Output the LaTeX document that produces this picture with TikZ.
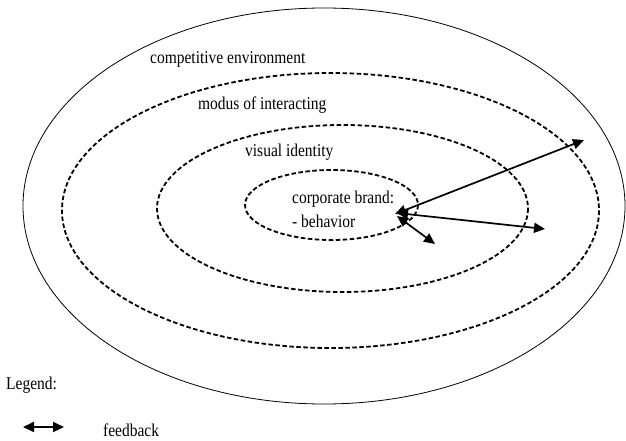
\documentclass[tikz,border=0pt]{standalone}
\usepackage{fontspec}
\setmainfont[FakeStretch=0.86]{Liberation Serif}
\usetikzlibrary{arrows.meta}
\tikzset{
  lbl/.style={inner sep=0pt, anchor=west, font=\fontsize{18}{20}\selectfont},
  ring/.style={line width=1.8pt, dash pattern=on 4.5pt off 2.5pt},
  outerring/.style={line width=0.8pt},
  fb/.style={line width=1.7pt, {Triangle[length=11pt,width=10pt]}-{Triangle[length=11pt,width=10pt]}}
}
\begin{document}
\begin{tikzpicture}[x=1pt,y=-1pt]
\useasboundingbox (0,0) rectangle (626,441);
% rings
\draw[outerring] (324,206) ellipse [x radius=301, y radius=198];
\draw[ring] (330.5,210.5) ellipse [x radius=268.5, y radius=137.5];
\draw[ring] (342.5,208.5) ellipse [x radius=185.5, y radius=83.5];
\draw[ring] (331.5,205) ellipse [x radius=86.5, y radius=35];
% labels
\node[lbl] (comp) at (150,59) {competitive environment};
\node[lbl] (modus) at (198,105) {modus of interacting};
\node[lbl] (vis) at (245,152) {visual identity};
\node[lbl] (corp) at (292,199) {corporate brand:};
\node[lbl] (beh) at (292,221) {- behavior};
\node[lbl] (leg) at (6,385) {Legend:};
\node[lbl] (fbl) at (103,430) {feedback};
% feedback arrows
\coordinate (c1) at (395,214);
\coordinate (c2) at (397,213);
\coordinate (c3) at (397,216);
\coordinate (e1) at (584,140);
\coordinate (e2) at (545,229);
\coordinate (e3) at (435,244);
\draw[fb] (c1) -- (e1);
\draw[fb] (c2) -- (e2);
\draw[fb] (c3) -- (e3);
% legend arrow
\coordinate (la) at (23,427);
\coordinate (lb) at (64,427);
\draw[fb] (la) -- (lb);
\end{tikzpicture}
\end{document}
